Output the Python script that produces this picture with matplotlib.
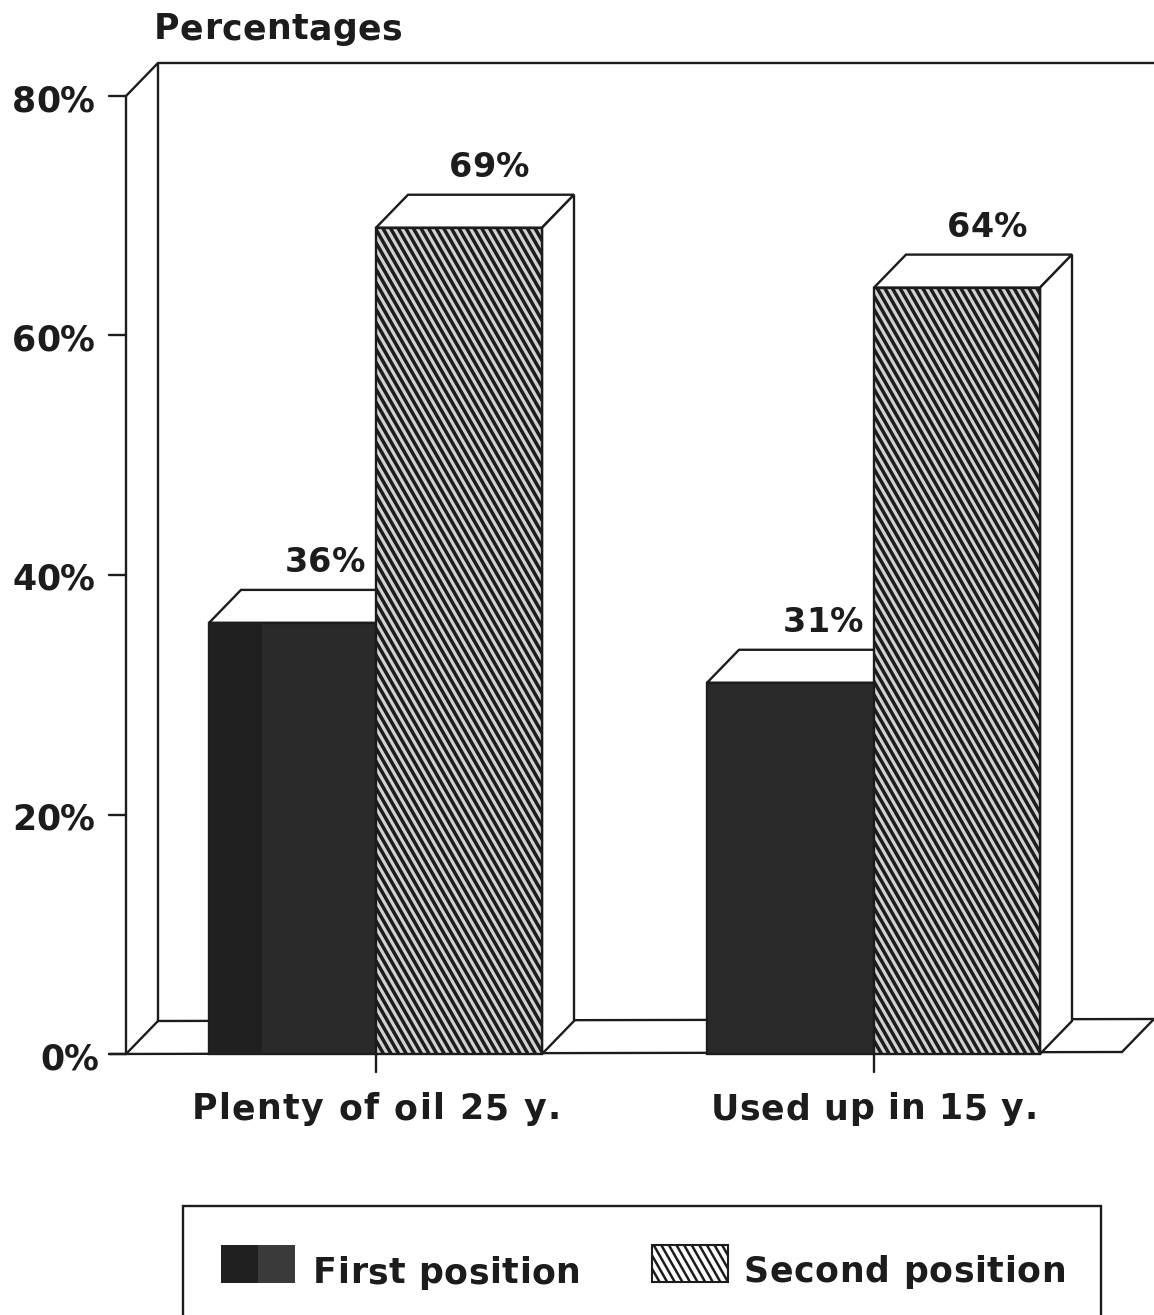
#!/usr/bin/env python3

import matplotlib
matplotlib.use("Agg")
import matplotlib.pyplot as plt
import numpy as np
from matplotlib.collections import LineCollection
from matplotlib.font_manager import findfont, get_font
from matplotlib.ft2font import LoadFlags
from matplotlib.patches import Polygon, Rectangle
from matplotlib.text import Text
from matplotlib.transforms import IdentityTransform

plt.rcParams['font.family'] = ['DejaVu Sans']

categories = ['Plenty of oil 25 y.', 'Used up in 15 y.']
first_position = [36, 31]
second_position = [69, 64]
first_labels = ['36%', '31%']
second_labels = ['69%', '64%']
yticks = [0, 20, 40, 60, 80]
ytick_labels = ['0%', '20%', '40%', '60%', '80%']

W, H = 1154, 1315
ink = '#1c1c1c'
lw = 1.7


class TrackedText(Text):
    """Text with extra letter spacing (tracking in pixels)."""

    def __init__(self, *args, tracking=0, **kwargs):
        super().__init__(*args, **kwargs)
        self.tracking = tracking

    def draw(self, renderer):
        s = self.get_text()
        font = get_font(findfont(self.get_fontproperties()))
        font.set_size(self.get_fontsize(), self.figure.dpi)
        adv = [font.load_char(ord(c), flags=LoadFlags.NO_HINTING).linearHoriAdvance / 65536 for c in s]
        total = sum(adv) + self.tracking * (len(s) - 1)
        x, y = self.get_transform().transform(self.get_position())
        if self.get_ha() == 'center':
            x -= total / 2
        for c, a in zip(s, adv):
            t = Text(x, y, c, transform=IdentityTransform(), color=self.get_color(),
                     fontproperties=self.get_fontproperties(), ha='left', va='baseline')
            t.set_figure(self.figure)
            t.draw(renderer)
            x += a + self.tracking


def add_text(target, x, y, s, size, tracking, ha='left', z=6):
    target.add_artist(TrackedText(x, y, s, tracking=tracking, fontsize=size, fontweight='bold',
                                  color=ink, ha=ha, va='baseline', zorder=z))


def stripes(target, rect, pitch=7.6, slope=1.75, width=2.5, z=5):
    # steep back-slanted fill, the built-in hatch is only 45 degrees
    box = rect.get_window_extent()
    run = box.height / slope
    segs = [[(x, box.y1), (x + run, box.y0)] for x in np.arange(box.x0 - run, box.x1, pitch)]
    lc = LineCollection(segs, colors=ink, linewidths=width, transform=IdentityTransform(), zorder=z)
    target.add_collection(lc, autolim=False)
    lc.set_clip_path(rect)


fig = plt.figure(figsize=(W / 100, H / 100), dpi=100)

# page axes in pixels for the title and legend
pg = fig.add_axes([0, 0, 1, 1])
pg.set_xlim(0, W)
pg.set_ylim(H, 0)
pg.axis('off')

# axes = front plane of the box, group centres at pixels 376 and 874
ax = fig.add_axes([126 / W, 1 - 1054 / H, 996 / W, 958 / H])
ax.set_xlim(-250 / 498, 746 / 498)
ax.set_ylim(0, 80)
ax.axis('off')
ax.patch.set_visible(False)

px = 1 / 498        # one pixel in x data units
py = 80 / 958       # one pixel in y data units
dx = 32 * px
dy = 33 * py
x_left, x_right = ax.get_xlim()


def line(xs, ys):
    ax.plot(xs, ys, color=ink, lw=lw, clip_on=False, solid_capstyle='round', zorder=2)


# box: back wall, left wall, floor (the scan leans very slightly at the right)
line([x_left, x_left + dx, x_left + dx], [80, 80 + dy, dy])
line([x_left + dx, x_right + dx], [80 + dy, 80 + dy])
line([x_left, x_left], [0, 80])
line([x_left, x_left + dx], [0, dy])
line([x_left + dx, x_right + dx], [dy, dy + 2 * py])
line([x_left - 17 * px, x_right], [0, 2 * py])
line([x_right, x_right + dx], [2 * py, dy + 2 * py])


def bar3d(x0, x1, h, face, z=3):
    ax.add_patch(Polygon([[x0, h], [x0 + dx, h + dy], [x1 + dx, h + dy], [x1, h]],
                         fc='white', ec=ink, lw=lw, zorder=z, clip_on=False))
    ax.add_patch(Polygon([[x1, 0], [x1 + dx, dy], [x1 + dx, h + dy], [x1, h]],
                         fc='white', ec=ink, lw=lw, zorder=z, clip_on=False))
    front = Rectangle((x0, 0), x1 - x0, h, fc=face, ec=ink, lw=lw, zorder=z + 0.1, clip_on=False)
    ax.add_patch(front)
    return front


for i, cat in enumerate(categories):
    bar3d(i - 167 * px, i, first_position[i], '#2a2a2a', z=3)
    front = bar3d(i, i + 166 * px, second_position[i], '#d2d2d2', z=4)
    stripes(ax, front, z=4.2)
    add_text(ax, i - 83 * px + 32 * px, first_position[i] + dy + 18 * py, first_labels[i], 24, 0, ha='center')
    add_text(ax, i + 83 * px + 30 * px, second_position[i] + dy + 18 * py, second_labels[i], 24, 0, ha='center')
    line([i, i], [0, -18 * py])
    add_text(ax, i, -65 * py, cat, 25, 1.4 - 0.7 * i, ha='center')

# darker left strip on the first bar only
ax.add_patch(Rectangle((-167 * px, 0), 53 * px, first_position[0], fc='#202020', ec='none', zorder=3.2))

for t, lab in zip(yticks, ytick_labels):
    line([x_left - 17 * px, x_left], [t, t])
    add_text(ax, x_left - 114 * px + (0 if t else 28 * px), t - 15 * py, lab, 25, 0)

add_text(pg, 154, 39, 'Percentages', 25, 0.4)

# legend box runs off the bottom of the page
pg.add_patch(Rectangle((183, 1206), 918, 130, fc='white', ec=ink, lw=lw, clip_on=True))
pg.add_patch(Rectangle((221, 1245), 37, 38, fc='#202020', ec='none'))
pg.add_patch(Rectangle((258, 1245), 37, 38, fc='#3a3a3a', ec='none'))
swatch = Rectangle((652, 1245), 76, 37, fc='white', ec=ink, lw=1.5)
pg.add_patch(swatch)
stripes(pg, swatch, width=1.8, z=3)
add_text(pg, 313, 1283, 'First position', 25, 0.5)
add_text(pg, 744, 1282, 'Second position', 25, 0.6)

fig.savefig('out.png', dpi=100, facecolor='white')
